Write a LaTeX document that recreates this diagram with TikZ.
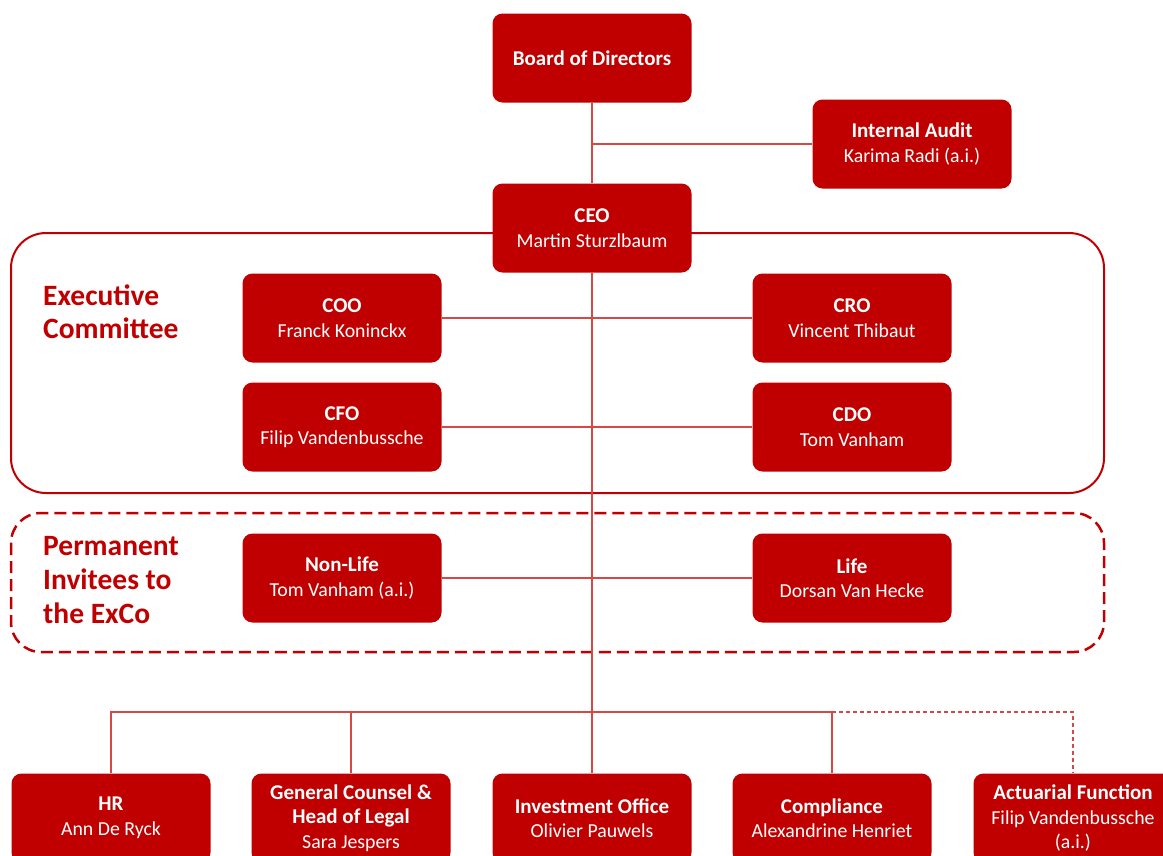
\documentclass[tikz,border=0pt]{standalone}
\usepackage{fontspec}
\setmainfont{Carlito}
\definecolor{kbred}{HTML}{C00000}
\definecolor{kbline}{HTML}{D64848}
\newcommand{\boxtitle}[1]{{\fontsize{21}{24}\selectfont\bfseries #1}}

\begin{document}
\begin{tikzpicture}[x=1pt,y=-1pt,
    box/.style={fill=kbred, rounded corners=10pt, minimum width=199pt, minimum height=89pt,
      inner sep=0pt, text=white, align=center, font=\fontsize{19.8}{24.5}\selectfont},
    conn/.style={kbline, line width=1.6pt},
    lab/.style={text=kbred, font=\fontsize{29.5}{33}\selectfont\bfseries, align=left,
      anchor=base west, inner sep=0pt}]
        \useasboundingbox (0,0) rectangle (1163,855);
        \clip (0,0) rectangle (1163,855);

        % committees
        \draw[kbred, line width=2pt, rounded corners=35pt] (11,233) rectangle (1104,493);
        \draw[kbred, line width=2.5pt, dash pattern=on 12pt off 6pt, rounded corners=30pt]
          (11,513) rectangle (1104,652);
        \node[lab] (exco) at (43,338) {Executive\\Committee};
        \node[lab, font=\fontsize{29.5}{34}\selectfont\bfseries] (invitees) at (43,623)
          {Permanent\\Invitees to\\the ExCo};

        % top
        \node[box] (board) at (592,58) {\boxtitle{Board of Directors}};
        \node[box] (audit) at (912,144) {\boxtitle{Internal Audit}\\Karima Radi (a.i.)};
        \node[box] (ceo) at (592,228) {\boxtitle{CEO}\\Martin Sturzlbaum};

        % executive committee
        \node[box] (coo) at (342,318) {\boxtitle{COO}\\Franck Koninckx};
        \node[box] (cro) at (852,318) {\boxtitle{CRO}\\Vincent Thibaut};
        \node[box] (cfo) at (342,427) {\boxtitle{CFO}\\Filip Vandenbussche};
        \node[box] (cdo) at (852,427) {\boxtitle{CDO}\\Tom Vanham};
        \node[box] (nonlife) at (342,578) {\boxtitle{Non-Life}\\Tom Vanham (a.i.)};
        \node[box] (life) at (852,578) {\boxtitle{Life}\\Dorsan Van Hecke};

        % functions
        \node[box] (hr) at (111,818) {\boxtitle{HR}\\Ann De Ryck};
        \node[box] (legal) at (351,818) {\boxtitle{General Counsel \&}\\\boxtitle{Head of Legal}\\Sara Jespers};
        \node[box] (invest) at (592,818) {\boxtitle{Investment Office}\\Olivier Pauwels};
        \node[box] (compl) at (832,818) {\boxtitle{Compliance}\\Alexandrine Henriet};
        \node[box] (actuar) at (1073,818) {\boxtitle{Actuarial Function}\\Filip Vandenbussche\\(a.i.)};
        \coordinate (bus) at (592,712);

        \draw[conn] (board) -- (ceo);
        \draw[conn] (board |- audit) -- (audit);
        \draw[conn] (ceo) -- (invest);
        \draw[conn] (coo) -- (cro);
        \draw[conn] (cfo) -- (cdo);
        \draw[conn] (nonlife) -- (life);
        \draw[conn] (hr) |- (compl |- bus) -- (compl);
        \draw[conn] (legal) -- (legal |- bus);
        \draw[conn, dash pattern=on 4pt off 3pt] (compl |- bus) -| (actuar);
      \end{tikzpicture}
\end{document}
